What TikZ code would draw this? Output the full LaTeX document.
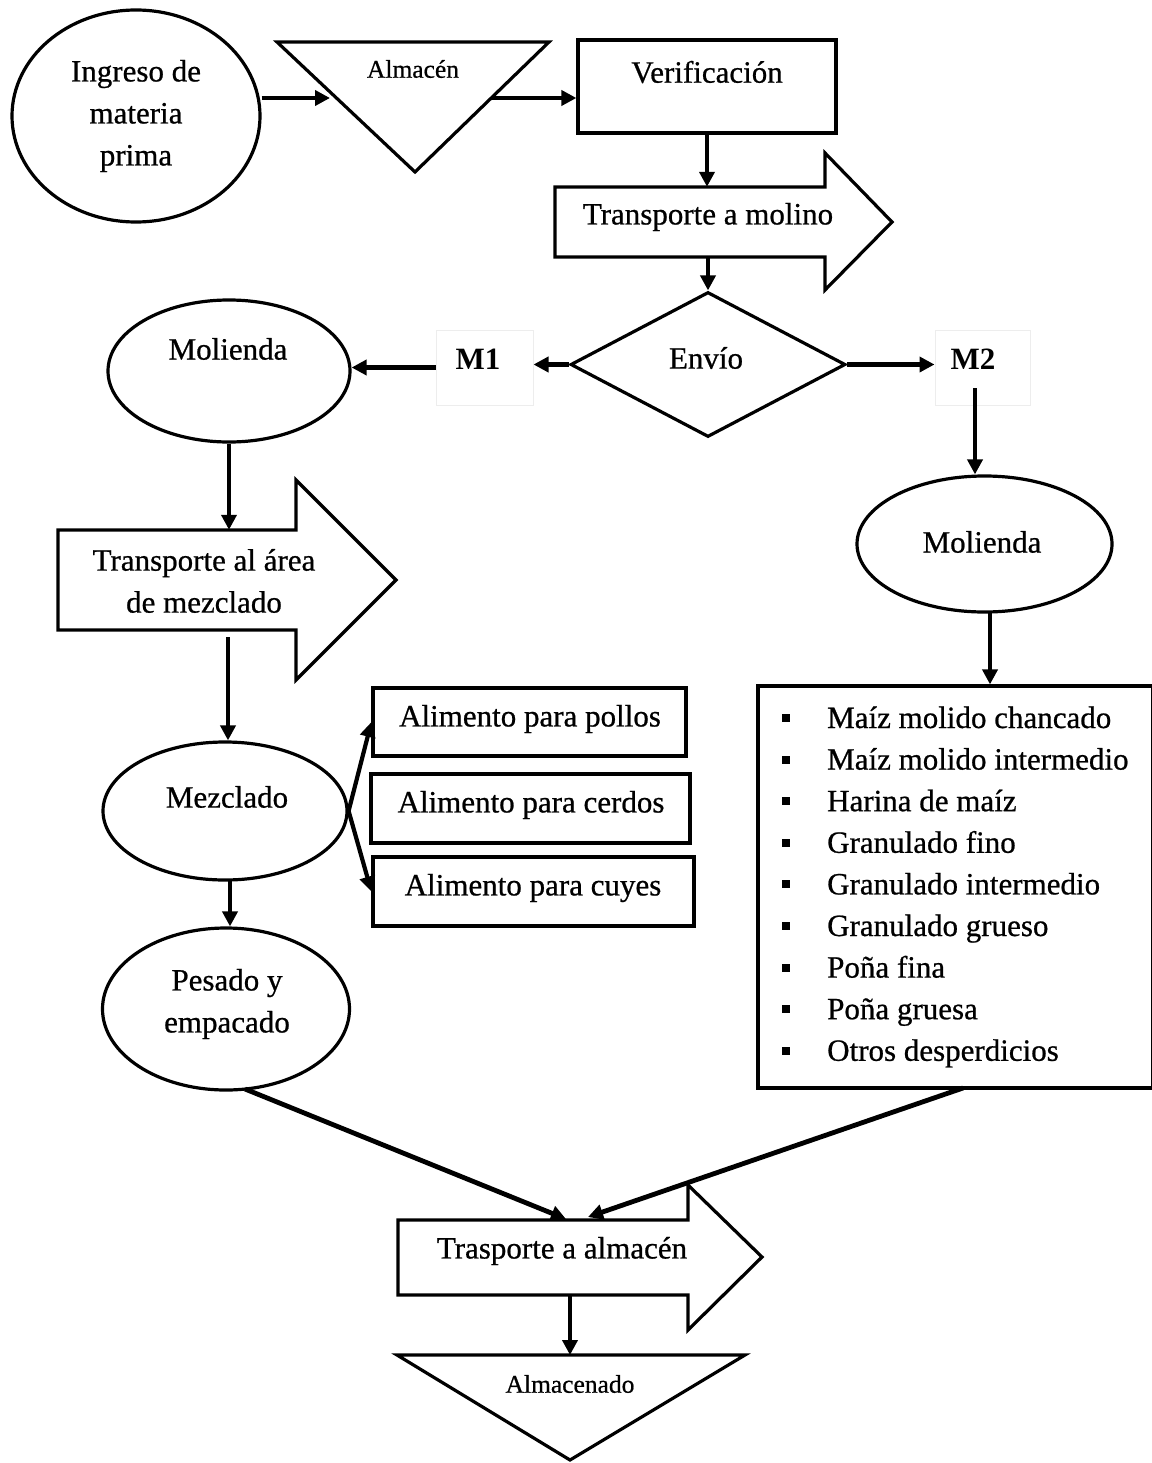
\documentclass[tikz,border=0pt]{standalone}
\usepackage{fontspec}
\setmainfont{Liberation Serif}[FakeBold=0.7]
\newfontfamily\boldserif{Liberation Serif Bold}
\usetikzlibrary{shapes.geometric,arrows.meta}
\begin{document}
\begin{tikzpicture}[x=1pt,y=-1pt,
  font=\fontsize{31}{42}\selectfont,
  shp/.style={draw, line width=3.2pt},
  ell/.style={shp, ellipse, inner sep=0pt},
  txt/.style={inner sep=0pt, align=center},
  box/.style={shp, inner sep=0pt},
  arr/.style={line width=4.8pt, -{Triangle[length=15pt,width=15pt]}},
  small/.style={font=\fontsize{25.5}{30}\selectfont},
  mbox/.style={draw=black!7, line width=1pt, inner sep=0pt},
  bul/.style={fill, minimum size=8pt, inner sep=0pt},
  item/.style={anchor=base west, inner sep=0pt},
]
\useasboundingbox (0,0) rectangle (1151,1463);

% ---- top row
\node[ell, minimum width=248pt, minimum height=212pt] (ingreso) at (136,116) {};
\node[txt] (ingresoT) at (136,116) {Ingreso de\\materia\\prima};

\draw[shp] (277,42) -- (549,42) -- (415,172) -- cycle;
\node[txt, small] (almT) at (413,69) {Almacén};
\coordinate (almL) at (330,98);
\coordinate (almR) at (492,98);

\node[box, minimum width=258pt, minimum height=93pt] (verif) at (707,86.5) {};
\node[txt] (verifT) at (707,72) {Verificación};

\draw[arr] (ingreso.east |- almL) -- (almL);
\draw[arr] (almR) -- (verif.west |- almR);

% ---- transporte a molino
\draw[shp] (555,187) -- (825,187) -- (825,153) -- (892,222) -- (825,290) -- (825,257) -- (555,257) -- cycle;
\node[inner sep=0pt, minimum width=270pt, minimum height=70pt] (tm) at (690,222) {};
\node[txt] (tmT) at (708,217) {Transporte a molino};
\draw[arr] (verif.south) -- (verif.south |- tm.north);

% ---- envio
\node[shp, diamond, inner sep=0pt, minimum width=275pt, minimum height=145pt] (envio) at (708,364.5) {};
\node[txt] (envioT) at (706,358) {Envío};
\draw[arr] (envio.north |- tm.south) -- (envio.north);

\node[mbox, minimum width=97pt, minimum height=75pt] (m1) at (484.5,367.5) {};
\node[txt, font=\fontsize{31}{42}\boldserif] (m1T) at (478,359) {M1};
\node[mbox, minimum width=95pt, minimum height=75pt] (m2) at (982.5,367.5) {};
\node[txt, font=\fontsize{31}{42}\boldserif] (m2T) at (973,359) {M2};

\draw[arr] (envio.west) -- (m1.east |- envio.west);
\draw[arr] (envio.east) -- (m2.west |- envio.east);

% ---- left branch
\node[ell, minimum width=242pt, minimum height=142pt] (mol1) at (229,371) {};
\node[txt] (mol1T) at (228,349) {Molienda};
\draw[arr] (m1.west) -- (mol1.east |- m1.west);

\draw[shp] (58,530) -- (296,530) -- (296,480) -- (396,580) -- (296,680) -- (296,630) -- (58,630) -- cycle;
\node[inner sep=0pt, minimum width=238pt, minimum height=100pt] (tam) at (177,580) {};
\node[txt] (tamT) at (204,581) {Transporte al área\\de mezclado};
\draw[arr] (mol1.south) -- (mol1.south |- tam.north);

\node[ell, minimum width=244pt, minimum height=138pt] (mez) at (225,811) {};
\node[txt] (mezT) at (227,797) {Mezclado};
\coordinate (tamOut) at (228,637);
\draw[arr] (tamOut) -- (tamOut |- mez.north);

\node[box, minimum width=313pt, minimum height=68pt] (pollos) at (529.5,722) {};
\node[txt] (pollosT) at (530,719) {Alimento para pollos};
\node[box, minimum width=319pt, minimum height=69pt] (cerdos) at (530.5,808.5) {};
\node[txt] (cerdosT) at (531,805) {Alimento para cerdos};
\node[box, minimum width=321pt, minimum height=69pt] (cuyes) at (533.5,891.5) {};
\node[txt] (cuyesT) at (533,888) {Alimento para cuyes};

\draw[arr, line width=4.2pt] (mez.east) -- (pollos.west);
\draw[arr, line width=4.2pt] (mez.east) -- (cuyes.west);

\node[ell, minimum width=247pt, minimum height=162pt] (pes) at (226,1009) {};
\node[txt] (pesT) at (227,1004) {Pesado y\\empacado};
\coordinate (mezOut) at (230,880);
\draw[arr] (mezOut) -- (mezOut |- pes.north);

% ---- right branch
\node[ell, minimum width=255pt, minimum height=136pt] (mol2) at (984.5,544) {};
\node[txt] (mol2T) at (982,542) {Molienda};
\coordinate (m2out) at (975,388);
\draw[arr] (m2out) -- (m2out |- mol2.north);

\node[box, minimum width=395pt, minimum height=402pt] (list) at (955.5,887) {};
\coordinate (mol2out) at (990,612);
\draw[arr] (mol2out) -- (mol2out |- list.north);

\foreach \t [count=\i] in {Maíz molido chancado, Maíz molido intermedio, Harina de maíz, Granulado fino, Granulado intermedio, Granulado grueso, Poña fina, Poña gruesa, Otros desperdicios}{
  \pgfmathsetmacro{\yy}{718+41.6*(\i-1)}
  \node[bul] (b\i) at (786,\yy) {};
  \node[item] (it\i) at (827,\yy+10) {\t};
}

% ---- bottom
\draw[shp] (398,1220) -- (688,1220) -- (688,1185) -- (762,1257) -- (688,1330) -- (688,1295) -- (398,1295) -- cycle;
\node[inner sep=0pt, minimum width=290pt, minimum height=75pt] (ta) at (543,1257.5) {};
\node[txt] (taT) at (562,1251) {Trasporte a almacén};
\coordinate (ta1) at (566,1219);
\coordinate (ta2) at (588,1217);
\coordinate (pesOut) at (245,1089);
\coordinate (listOut) at (963,1088);
\draw[arr] (pesOut) -- (ta1);
\draw[arr] (listOut) -- (ta2);

\draw[shp] (397,1355) -- (745,1355) -- (570,1460) -- cycle;
\node[txt, small] (almcT) at (570,1384) {Almacenado};
\coordinate (taOut) at (570,1295);
\draw[arr] (taOut) -- (570,1355);
\end{tikzpicture}
\end{document}
